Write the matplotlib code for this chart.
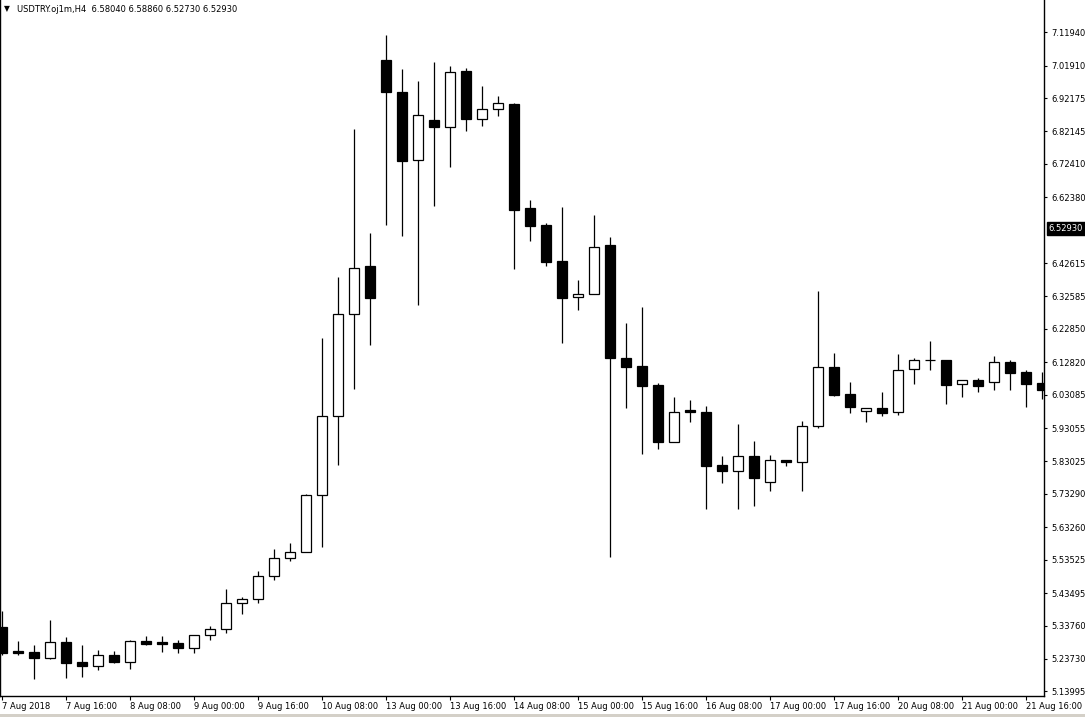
import matplotlib
matplotlib.use("Agg")
import matplotlib.pyplot as plt
from matplotlib.patches import Rectangle

# USDTRY H4 bars, 7 Aug 2018 00:00 onward (one bar every 4 hours, weekend skipped)
opens = [5.334, 5.262, 5.258, 5.241, 5.288, 5.228, 5.217, 5.249, 5.229, 5.291,
         5.289, 5.285, 5.271, 5.308, 5.326, 5.404, 5.417, 5.485, 5.540, 5.558,
         5.729, 5.966, 6.272, 6.417, 7.036, 6.941, 6.736, 6.855, 6.836, 7.003,
         6.858, 6.888, 6.904, 6.592, 6.540, 6.433, 6.323, 6.333, 6.480, 6.140,
         6.117, 6.060, 5.890, 5.984, 5.979, 5.820, 5.803, 5.846, 5.768, 5.835,
         5.830, 5.938, 6.113, 6.033, 5.981, 5.991, 5.978, 6.107, 6.134, 6.134,
         6.062, 6.075, 6.068, 6.128, 6.098, 6.065]
highs = [5.381, 5.292, 5.279, 5.354, 5.303, 5.279, 5.265, 5.262, 5.294, 5.306,
         5.306, 5.294, 5.309, 5.336, 5.447, 5.423, 5.501, 5.567, 5.586, 5.732,
         6.201, 6.384, 6.829, 6.517, 7.111, 7.009, 6.973, 7.031, 7.017, 7.011,
         6.958, 6.928, 6.908, 6.616, 6.547, 6.595, 6.376, 6.570, 6.504, 6.246,
         6.294, 6.066, 6.024, 6.015, 5.997, 5.847, 5.943, 5.892, 5.850, 5.836,
         5.952, 6.342, 6.156, 6.069, 5.990, 6.039, 6.153, 6.140, 6.192, 6.135,
         6.075, 6.080, 6.147, 6.135, 6.105, 6.099]
lows = [5.249, 5.250, 5.178, 5.236, 5.181, 5.184, 5.205, 5.226, 5.208, 5.280,
        5.259, 5.256, 5.256, 5.294, 5.316, 5.373, 5.406, 5.475, 5.531, 5.557,
        5.574, 5.821, 6.049, 6.181, 6.542, 6.509, 6.299, 6.598, 6.714, 6.824,
        6.839, 6.869, 6.409, 6.494, 6.418, 6.185, 6.286, 6.332, 5.542, 5.992,
        5.854, 5.869, 5.889, 5.950, 5.689, 5.767, 5.689, 5.698, 5.743, 5.818,
        5.743, 5.932, 6.028, 5.977, 5.950, 5.968, 5.971, 6.064, 6.106, 6.004,
        6.025, 6.040, 6.046, 6.046, 5.995, 6.019]
closes = [5.256, 5.256, 5.241, 5.288, 5.226, 5.217, 5.248, 5.229, 5.291, 5.283,
          5.283, 5.271, 5.308, 5.327, 5.404, 5.417, 5.485, 5.540, 5.558, 5.729,
          5.966, 6.272, 6.411, 6.322, 6.941, 6.734, 6.870, 6.836, 7.000, 6.860,
          6.888, 6.906, 6.587, 6.538, 6.428, 6.322, 6.333, 6.476, 6.140, 6.115,
          6.058, 5.890, 5.978, 5.978, 5.818, 5.803, 5.846, 5.782, 5.834, 5.830,
          5.936, 6.113, 6.031, 5.995, 5.990, 5.977, 6.104, 6.134, 6.135, 6.061,
          6.074, 6.058, 6.128, 6.097, 6.064, 6.046]

price_ticks = [7.11940, 7.01910, 6.92175, 6.82145, 6.72410, 6.62380, 6.42615,
               6.32585, 6.22850, 6.12820, 6.03085, 5.93055, 5.83025, 5.73290,
               5.63260, 5.53525, 5.43495, 5.33760, 5.23730, 5.13995]
time_tick_bars = [0, 4, 8, 12, 16, 20, 24, 28, 32, 36, 40, 44, 48, 52, 56, 60, 64]
time_tick_labels = ["7 Aug 2018", "7 Aug 16:00", "8 Aug 08:00", "9 Aug 00:00",
                    "9 Aug 16:00", "10 Aug 08:00", "13 Aug 00:00", "13 Aug 16:00",
                    "14 Aug 08:00", "15 Aug 00:00", "15 Aug 16:00", "16 Aug 08:00",
                    "17 Aug 00:00", "17 Aug 16:00", "20 Aug 08:00", "21 Aug 00:00",
                    "21 Aug 16:00"]
header = "USDTRY.oj1m,H4  6.58040 6.58860 6.52730 6.52930"
last_price = 6.52930

W, H = 1085, 717
FONT = "DejaVu Sans"
FS = 6.0
LW = 0.9

fig = plt.figure(figsize=(W / 100, H / 100), dpi=100)
fig.patch.set_facecolor("white")
ax = fig.add_axes([0, 21 / H, 1044 / W, 696 / H])

body_w = 0.62
for i, (o, h, l, c) in enumerate(zip(opens, highs, lows, closes)):
    top, bot = max(o, c), min(o, c)
    ax.vlines(i, l, h, color="black", lw=LW, zorder=2)
    face = "black" if c < o else "white"
    ax.add_patch(Rectangle((i - body_w / 2, bot), body_w, max(top - bot, 1e-4),
                           facecolor=face, edgecolor="black", lw=LW, zorder=3))

# axis scale: 1 bar = 16 px, price ~0.0030036 per px
ax.set_xlim(-0.144, 65.11)
ax.set_ylim(5.1259, 7.2164)

ax.spines["top"].set_visible(False)
for s in ["right", "bottom", "left"]:
    ax.spines[s].set_linewidth(1.0)

ax.yaxis.tick_right()
ax.set_yticks(price_ticks)
ax.set_yticklabels([f"{p:.5f}" for p in price_ticks], fontsize=FS, family=FONT)
ax.tick_params(axis="y", direction="out", length=2.5, width=0.8, pad=2.8, right=True, left=False)

ax.set_xticks(time_tick_bars)
ax.set_xticklabels(time_tick_labels, fontsize=FS, family=FONT, ha="left")
ax.tick_params(axis="x", direction="out", length=3, width=0.8, pad=1.5)

# current price marker
ax.annotate(f"{last_price:.5f}", xy=(1.0, last_price), xycoords=("axes fraction", "data"),
            xytext=(3.5, 0), textcoords="offset points", va="center", ha="left",
            fontsize=FS, family=FONT, color="white",
            bbox=dict(boxstyle="square,pad=0.22", facecolor="black", edgecolor="black"),
            annotation_clip=False)

fig.text(4 / W, 1 - 9 / H, "\u25bc", fontsize=5.5, family=FONT, va="center", ha="left")
fig.text(17 / W, 1 - 9 / H, header, fontsize=FS, family=FONT, va="center", ha="left")

# grey status strip at the very bottom
fig.patches.append(Rectangle((0, 0), 1, 3 / H, transform=fig.transFigure,
                             facecolor="#d4d0c8", edgecolor="none"))

fig.savefig("out.png", dpi=100)
